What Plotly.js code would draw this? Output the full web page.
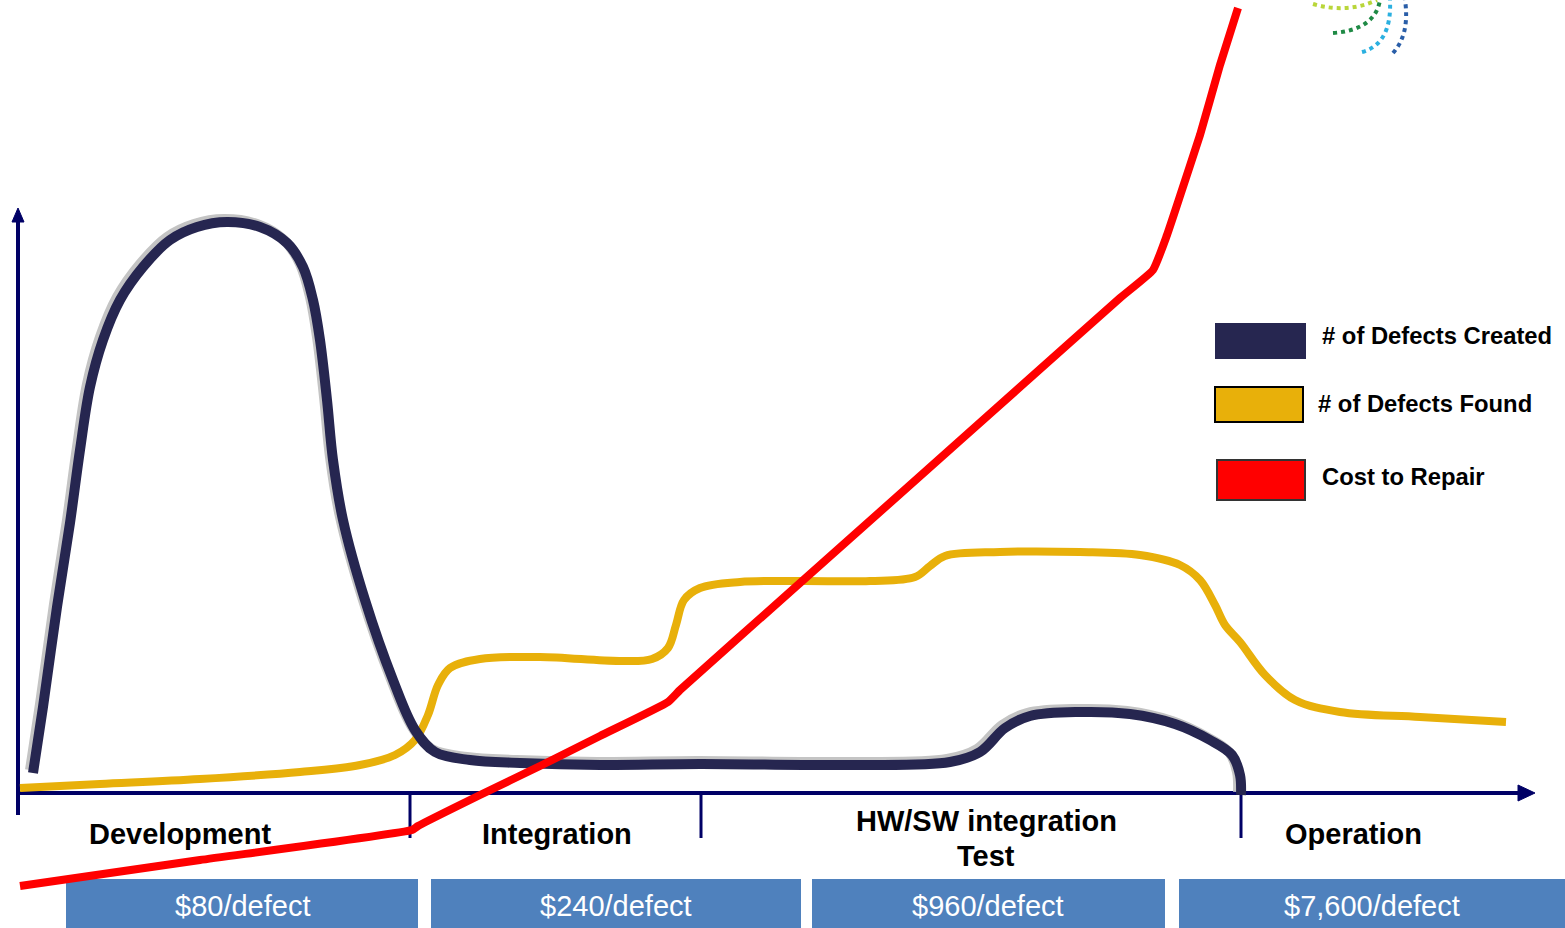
<!DOCTYPE html>
<html>
<head>
<meta charset="utf-8">
<script src="https://cdn.plot.ly/plotly-3.0.1.min.js"></script>
<style>
html,body{margin:0;padding:0;background:#fff;}
#chart{width:1565px;height:928px;}
</style>
</head>
<body>
<div id="chart"></div>
<script>
// ---- data (x = time along lifecycle, y = relative level above baseline) ----
const createdX = [13,23,37,50,60,70,83,100,123,150,177,207,240,267,283,293,300,307,313,323,345,373,395,415,450,500,580,680,830,930,960,985,1010,1060,1110,1155,1190,1212,1220,1221];
const createdY = [19,85,185,269,342,405,452,492,525,552,565,570,565,549,525,492,452,392,332,272,192,112,62,40,32,29,27,28,27,30,40,64,76,80,78,68,52,37,17,-3];

const foundX = [0,80,180,280,340,375,395,408,418,430,460,520,600,632,648,656,664,680,720,780,850,895,910,925,980,1060,1120,1160,1180,1195,1205,1220,1245,1275,1320,1400,1486];
const foundY = [4,8,13,20,27,37,52,77,107,124,133,135,131,133,144,167,192,204,210,211,211,215,226,236,240,240,237,227,212,187,167,150,117,92,80,75,70];

const costX = [0,180,392,398,460,520,580,648,660,780,880,1000,1100,1133,1147,1160,1180,1200,1218];
const costY = [-94,-68,-38,-34,-3,26,56,90,102,209,298,405,494,522,557,596,657,727,784];

const seriesNames = ['# of Defects Created', '# of Defects Found', 'Cost to Repair'];
const phaseNames = ['Development', 'Integration', 'HW/SW integration<br>Test', 'Operation'];
const phaseCosts = ['$80/defect', '$240/defect', '$960/defect', '$7,600/defect'];
const phaseBoundaries = [390, 681, 1221];

// ---- styles ----
const NAVY = '#262650';
const GOLD = '#e8b00a';
const RED = '#ff0000';
const AXIS = '#000066';
const BOX = '#4f81bd';

// layout geometry (data units of the visible axes)
const XR = [-20, 1545];
const YR = [-136, 792];
const phaseLabelX = [160, 537, 966, 1333];
const phaseLabelY = [-42, -42, -46, -42];
const boxSpans = [[46,398],[411,781],[792,1145],[1159,1545]];
const boxTextX = [222, 596, 968, 1352];
const boxTop = -87, boxBottom = -136;

const traces = [
  { // shadow of the created curve (drawn on shifted axes)
    x: createdX, y: createdY, xaxis: 'x', yaxis: 'y', mode: 'lines',
    line: {color: '#c4c4c4', width: 10, shape: 'spline', smoothing: 1},
    hoverinfo: 'skip', showlegend: false
  },
  {
    x: foundX, y: foundY, xaxis: 'x2', yaxis: 'y2', mode: 'lines', name: seriesNames[1],
    line: {color: GOLD, width: 8, shape: 'spline', smoothing: 1}, showlegend: false
  },
  {
    x: createdX, y: createdY, xaxis: 'x2', yaxis: 'y2', mode: 'lines', name: seriesNames[0],
    line: {color: NAVY, width: 10, shape: 'spline', smoothing: 1}, showlegend: false
  },
  {
    x: costX, y: costY, xaxis: 'x2', yaxis: 'y2', mode: 'lines', name: seriesNames[2],
    line: {color: RED, width: 8, shape: 'spline', smoothing: 0.4}, showlegend: false
  }
];

const shapes = [];
// axes
shapes.push({type:'line', xref:'x2', yref:'y2', x0:-2, x1:-2, y0:-23, y1:572, line:{color:AXIS, width:4}, layer:'below'});
shapes.push({type:'path', xref:'x2', yref:'y2', path:'M -8,570 L 4,570 L -2,584 Z', fillcolor:AXIS, line:{color:AXIS, width:1}, layer:'below'});
shapes.push({type:'line', xref:'x2', yref:'y2', x0:-4, x1:1502, y0:-1, y1:-1, line:{color:AXIS, width:4}, layer:'below'});
shapes.push({type:'path', xref:'x2', yref:'y2', path:'M 1498,7 L 1515,-1 L 1498,-9 Z', fillcolor:AXIS, line:{color:AXIS, width:1}, layer:'below'});
phaseBoundaries.forEach(b => {
  shapes.push({type:'line', xref:'x2', yref:'y2', x0:b, x1:b, y0:-1, y1:-46, line:{color:AXIS, width:3}, layer:'below'});
});
// cost boxes
boxSpans.forEach(s => {
  shapes.push({type:'rect', xref:'x2', yref:'y2', x0:s[0], x1:s[1], y0:boxBottom, y1:boxTop, fillcolor:BOX, line:{width:0}, layer:'below'});
});
// legend swatches
shapes.push({type:'rect', xref:'x2', yref:'y2', x0:1195, x1:1286, y0:433, y1:469, fillcolor:NAVY, line:{width:0}});
shapes.push({type:'rect', xref:'x2', yref:'y2', x0:1195, x1:1283, y0:370, y1:405, fillcolor:GOLD, line:{color:'#000', width:2}});
shapes.push({type:'rect', xref:'x2', yref:'y2', x0:1197, x1:1285, y0:292, y1:332, fillcolor:RED, line:{color:'#333', width:2}});
// decorative logo fragment (top right)
const logo = [
  {p:'M 1293,788 Q 1327,778 1357,792', c:'#b9d63a'},
  {p:'M 1313,759 Q 1355,762 1360,792', c:'#1f8a45'},
  {p:'M 1342,740 Q 1372,748 1370,792', c:'#2bb0e0'},
  {p:'M 1373,739 Q 1390,758 1385,792', c:'#2a5ea8'}
];
logo.forEach(l => shapes.push({type:'path', xref:'x2', yref:'y2', path:l.p, line:{color:l.c, width:4, dash:'dot'}}));

const annotations = [];
const FONT = '"Liberation Sans", Arial, sans-serif';
const LINE_GAP = 35;
phaseNames.forEach((n,i) => {
  const lines = n.split('<br>');
  const top = phaseLabelY[i] + (lines.length - 1) * LINE_GAP / 2;
  lines.forEach((ln, j) => {
    annotations.push({xref:'x2', yref:'y2', x:phaseLabelX[i], y:top - j * LINE_GAP, text:'<b>'+ln+'</b>', showarrow:false,
      xanchor:'center', yanchor:'middle', font:{family:FONT, size:29, color:'#000'}});
  });
});
phaseCosts.forEach((c,i) => {
  annotations.push({xref:'x2', yref:'y2', x:boxTextX[i], y:(boxTop+boxBottom)/2 - 2, text:c, showarrow:false,
    xanchor:'center', yanchor:'middle', font:{family:FONT, size:29, color:'#fff'}});
});
const legendY = [457, 389, 316];
const legendX = [1300, 1296, 1300];
seriesNames.forEach((n,i) => {
  annotations.push({xref:'x2', yref:'y2', x:legendX[i], y:legendY[i], text:'<b>'+n+'</b>', showarrow:false,
    xanchor:'left', yanchor:'middle', font:{family:FONT, size:23.8, color:'#000'}});
});

const layout = {
  width: 1565, height: 928,
  margin: {l:0, r:0, t:0, b:0, pad:0},
  paper_bgcolor: '#fff', plot_bgcolor: '#fff',
  showlegend: false,
  xaxis: {range:[XR[0]+3, XR[1]+3], visible:false, fixedrange:true},
  yaxis: {range:[YR[0]-3, YR[1]-3], visible:false, fixedrange:true},
  xaxis2: {range:XR, visible:false, fixedrange:true, overlaying:'x'},
  yaxis2: {range:YR, visible:false, fixedrange:true, overlaying:'y'},
  shapes: shapes,
  annotations: annotations
};

Plotly.newPlot('chart', traces, layout, {displayModeBar:false, staticPlot:true});
</script>
</body>
</html>
